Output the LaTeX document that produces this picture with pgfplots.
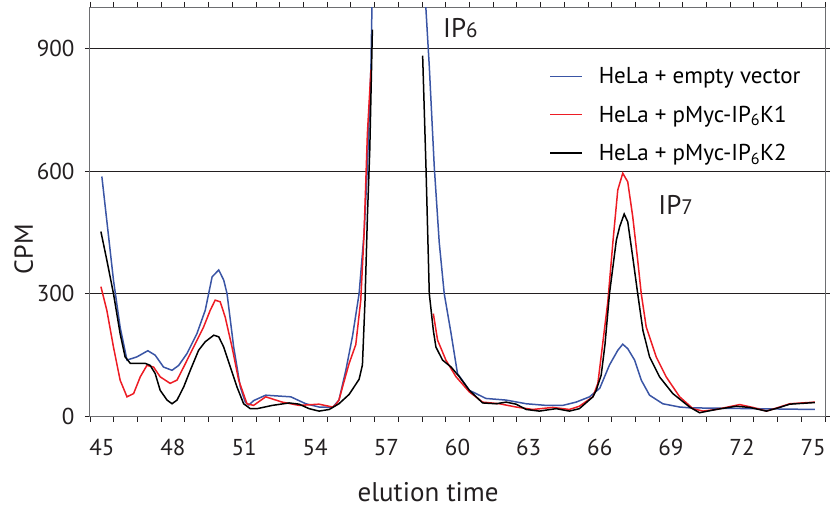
\documentclass[border=0pt]{standalone}
\usepackage{fontspec}
\setmainfont{PT Sans}
\usepackage{pgfplots}
\pgfplotsset{compat=1.18}
\definecolor{cblue}{HTML}{3A55A5}
\definecolor{cred}{HTML}{ED1C24}
\definecolor{ctext}{HTML}{231F20}
\definecolor{cframe}{HTML}{6D6E71}
\begin{document}
\begin{tikzpicture}
\begin{axis}[
  scale only axis, width=735pt, height=408pt,
  xmin=44.5, xmax=75.5, ymin=0, ymax=1000,
  axis line style={cframe, line width=1pt},
  xtick={45,48,...,75}, major x tick style={draw=none},
  minor xtick={44.5,45.5,...,75.5},
  minor x tick style={ctext, line width=0.8pt},
  minor tick length=6pt,
  ytick={0,300,600,900},
  major y tick style={ctext, line width=0.8pt},
  major tick length=5pt,
  tick align=outside,
  ymajorgrids, grid style={ctext, line width=0.9pt},
  /pgf/number format/assume math mode=true,
  tick label style={font=\fontsize{23}{23}\selectfont, text=ctext},
  xticklabel style={yshift=-15pt},
  yticklabel style={xshift=-7pt},
  xlabel={elution time},
  ylabel={CPM},
  xlabel style={font=\fontsize{27}{27}\selectfont, text=ctext, at={(axis description cs:0.46,-0.186)}, anchor=center},
  ylabel style={font=\fontsize{26}{26}\selectfont, text=ctext, at={(axis description cs:-0.09,0.409)}, anchor=center, rotate=0},
  unbounded coords=jump,
  legend style={draw=none, fill=none, font=\fontsize{23}{23}\selectfont,
    at={(axis description cs:0.6205,0.864)}, anchor=north west, row sep=16.5pt,
    /tikz/every odd column/.append style={column sep=14pt}},
  legend cell align=left,
  legend image code/.code={\draw[#1] (0pt,0pt) -- (32pt,0pt);},
]
\addplot[cblue, line width=1.5pt] coordinates {
(45.0,587) (45.49,333) (45.77,218) (46.06,137) (46.48,145) (46.94,160) (47.25,149)
(47.6,120) (47.96,112) (48.24,124) (48.59,153) (49.01,202) (49.36,259) (49.65,341)
(49.93,358) (50.14,333) (50.28,300) (50.56,169) (50.84,71) (51.05,34) (51.2,27) (51.41,38)
(51.91,51) (52.97,47) (53.6,30) (54.16,22) (54.73,21) (55.0,39) (55.29,112) (55.57,195)
(55.85,300) (56.06,448) (56.2,611) (56.35,857) (56.39,996) (56.5,1500) (57.5,3500)
(58.55,1500) (58.67,996) (58.81,857) (59.02,611) (59.23,425) (59.44,300) (59.73,202)
(60.0,104) (60.5,63) (61.2,43) (62.05,39) (62.9,30) (63.74,26) (64.44,26) (65.0,34)
(65.57,47) (66.0,68) (66.41,125) (66.76,161) (66.97,176) (67.18,165) (67.47,137)
(67.75,88) (68.1,51) (68.66,30) (69.37,22) (69.8,20) (75.07,16)
};
\addlegendentry{HeLa + empty vector}
\addplot[cred, line width=1.5pt] coordinates {
(44.96,317) (45.21,259) (45.49,169) (45.77,88) (46.06,47) (46.34,55) (46.62,96)
(46.9,124) (47.18,120) (47.46,96) (47.88,80) (48.17,88) (48.45,120) (48.87,169)
(49.29,218) (49.57,259) (49.78,284) (49.99,280) (50.2,243) (50.49,169) (50.77,88)
(51.12,30) (51.4,26) (51.91,47) (52.61,34) (53.32,26) (54.16,29) (54.73,22) (54.87,28)
(55.0,39) (55.15,71) (55.43,129) (55.71,175) (55.92,284) (56.06,448) (56.2,693) (56.35,849)
(57.5,nan)
(58.98,251) (59.16,186) (59.51,137) (59.94,96) (60.5,59) (61.06,34) (61.77,30)
(62.47,22) (63.17,16) (64.02,21) (64.72,16) (65.14,24) (65.71,47) (65.92,80) (66.13,180)
(66.34,280) (66.56,430) (66.76,554) (66.97,595) (67.18,574) (67.39,489) (67.6,382)
(67.75,300) (67.96,218) (68.38,145) (68.8,96) (69.37,47) (69.93,18) (70.35,12)
(70.91,16) (71.9,28) (72.46,21) (73.03,12) (73.59,22) (74.01,30) (75.07,34)
};
\addlegendentry{HeLa + pMyc-IP\textsubscript{6}K1}
\addplot[black, line width=1.5pt] coordinates {
(44.96,452) (45.21,382) (45.49,300) (45.77,202) (45.98,145) (46.2,129) (46.83,129)
(47.04,124) (47.25,104) (47.46,63) (47.75,39) (47.96,30) (48.17,39) (48.45,71)
(48.73,112) (49.08,161) (49.36,182) (49.72,198) (49.93,194) (50.14,169) (50.42,120)
(50.7,71) (50.98,30) (51.26,18) (51.55,18) (52.19,26) (52.9,32) (53.32,29) (53.74,18)
(54.16,12) (54.59,16) (55.0,30) (55.43,53) (55.85,90) (55.99,125) (56.1,284) (56.2,489)
(56.3,652) (56.41,947)
(57.5,nan)
(58.53,883) (58.67,611) (58.81,300) (58.98,210) (59.09,169) (59.37,137) (59.73,120)
(60.08,96) (60.5,63) (61.06,32) (61.63,30) (62.05,34) (62.47,29) (62.9,16) (63.45,12)
(64.16,18) (64.72,12) (65.14,18) (65.71,47) (65.85,63) (66.06,100) (66.22,175)
(66.41,300) (66.7,431) (66.84,464) (67.03,495) (67.18,476) (67.39,390) (67.6,300)
(67.82,210) (68.1,145) (68.52,96) (69.08,55) (69.79,22) (70.21,8) (70.91,16) (71.76,24)
(72.32,21) (73.03,12) (73.59,21) (74.01,29) (75.07,33)
};
\addlegendentry{HeLa + pMyc-IP\textsubscript{6}K2}
\node[text=ctext, font=\fontsize{27}{27}\selectfont, anchor=center] at (axis cs:60.12,952) {IP{\fontsize{21}{21}\selectfont 6}};
\node[text=ctext, font=\fontsize{27}{27}\selectfont, anchor=center] at (axis cs:69.2,517) {IP{\fontsize{21}{21}\selectfont 7}};
\coordinate (bl) at (rel axis cs:0,0);
\end{axis}
\pgfresetboundingbox
\path[use as bounding box] (bl) ++(-90pt,-98pt) rectangle ++(830pt,514pt);
\end{tikzpicture}
\end{document}
